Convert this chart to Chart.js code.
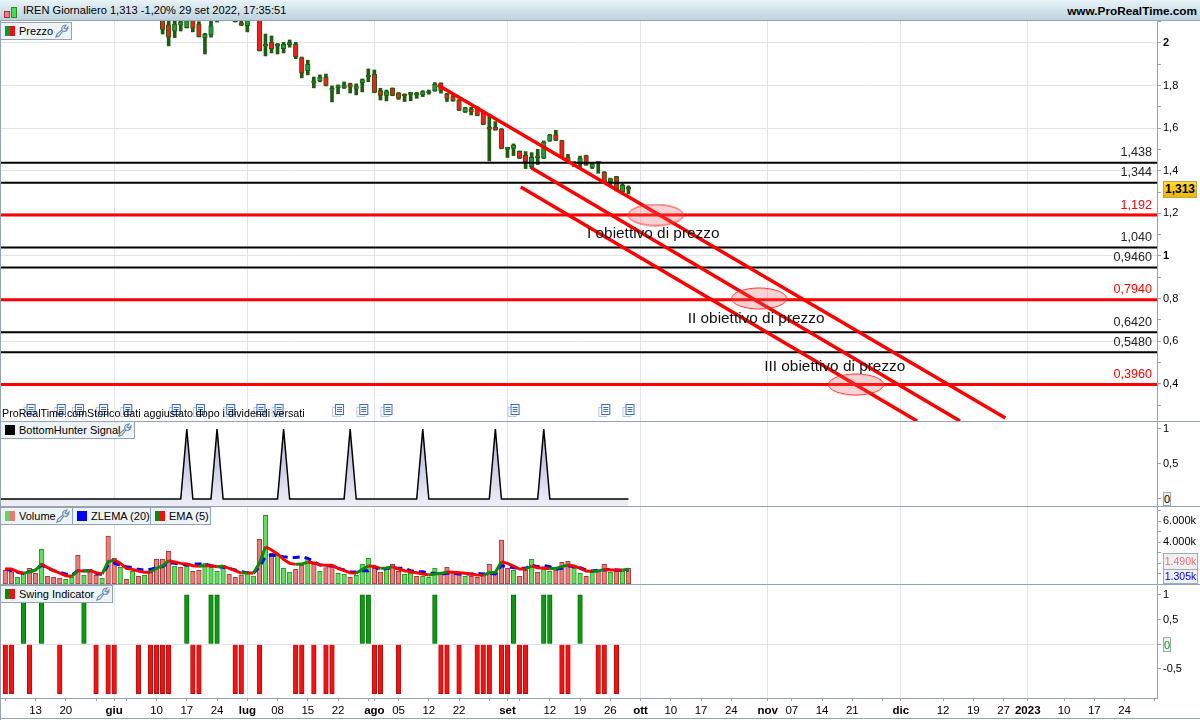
<!DOCTYPE html>
<html>
<head>
<meta charset="utf-8">
<title>IREN Giornaliero</title>
<script src="https://cdn.jsdelivr.net/npm/chart.js@4/dist/chart.umd.js"></script>
<style>
  html, body { margin: 0; background: #fff; }
  #page { position: relative; width: 1200px; height: 720px; overflow: hidden; background: #fff;
          font-family: "Liberation Sans", Arial, sans-serif; color: #000; }
  canvas { position: absolute; left: 0; display: block; }
  #header { position: absolute; left: 0; top: 0; width: 1200px; height: 21px; box-sizing: border-box;
            background: linear-gradient(#e9f3f8, #bdd2de); border-bottom: 1px solid #94a4b0; }
  #title { position: absolute; left: 23px; top: 4px; font-size: 11.1px; white-space: nowrap; }
  #site { position: absolute; right: 3px; top: 4px; font-size: 11.8px; font-weight: bold; }
  .ico { position: absolute; border: 1px solid #a33; }
  .sep { position: absolute; left: 0; width: 1200px; height: 1px; background: #94a4b0; }
  .tab { position: absolute; height: 18px; box-sizing: border-box; background: #edf3f6; border: 1px solid #94a4b0;
         font-size: 11px; line-height: 16px; padding-left: 18px; white-space: nowrap; }
  .tab i { position: absolute; left: 4px; top: 3px; width: 5px; height: 10px; }
  .tab i + i { left: 9px; }
  .tab svg { position: absolute; top: 1px; right: 2px; width: 14px; height: 14px; fill: none; stroke: #6f8eae; stroke-width: 1.2; }
  .tag { position: absolute; box-sizing: border-box; border: 1px solid #a0acb4; background: #eef1f4;
         font-size: 11px; line-height: 14px; text-align: center; white-space: nowrap; }
  #note { position: absolute; left: 2px; top: 407px; font-size: 10.7px; white-space: nowrap; }
</style>
</head>
<body>
<div id="page">
  <canvas id="priceChart" width="1200" height="400" style="top:21px"></canvas>
  <canvas id="hunterChart" width="1200" height="85" style="top:421px"></canvas>
  <canvas id="volumeChart" width="1200" height="78" style="top:506px"></canvas>
  <canvas id="swingChart" width="1200" height="136" style="top:584px"></canvas>

  <div class="sep" style="top:421px"></div>
  <div class="sep" style="top:506px"></div>
  <div class="sep" style="top:584px"></div>
  <div class="sep" style="top:718px"></div>
  <div class="sep" style="top:0;left:0;width:1px;height:720px"></div>

  <div id="header">
    <div class="ico" style="left:4px;top:11px;width:4px;height:5px;background:#f08080"></div>
    <div class="ico" style="left:11px;top:7px;width:4px;height:9px;background:#50d850;border-color:#2a8a2a"></div>
    <div id="title">IREN Giornaliero 1,313 -1,20% 29 set 2022, 17:35:51</div>
    <div id="site">www.ProRealTime.com</div>
  </div>

  <svg width="0" height="0" style="position:absolute">
    <symbol id="wrench" viewBox="0 0 14 14"><path d="M1 13 L2 10 L7 6 C6 3 8 1 11 1 L9 4 L11 5 L13 3 C13 6 11 8 8 7 L4 12 Z"/></symbol>
  </svg>

  <div class="tab" style="left:0;top:22px;width:72px"><i style="background:#0a9a30"></i><i style="background:#f01010"></i>Prezzo<svg><use href="#wrench"/></svg></div>
  <div class="tab" style="left:0;top:421px;width:135px"><i style="background:#000"></i><i style="background:#000"></i>BottomHunter Signal<svg><use href="#wrench"/></svg></div>
  <div class="tab" style="left:0;top:507px;width:73px"><i style="background:#60d860"></i><i style="background:#e87a72"></i>Volume<svg><use href="#wrench"/></svg></div>
  <div class="tab" style="left:72px;top:507px;width:79px"><i style="background:#0000ff"></i><i style="background:#0000ff"></i>ZLEMA (20)</div>
  <div class="tab" style="left:150px;top:507px;width:61px"><i style="background:#0a8a0a"></i><i style="background:#f01010"></i>EMA (5)</div>
  <div class="tab" style="left:0;top:585px;width:113px"><i style="background:#0a8a0a"></i><i style="background:#f01010"></i>Swing Indicator<svg><use href="#wrench"/></svg></div>

  <div id="note">ProRealTime.comStorico dati aggiustato dopo i dividendi versati</div>

  <div class="tag" style="left:1163px;top:181px;width:34px;height:17px;font-weight:bold;font-size:12px;line-height:15px;background:linear-gradient(#ffdc30,#f2b800);border-color:#b9a64e">1,313</div>
  <div class="tag" style="left:1163px;top:492px;width:8px;height:14px;line-height:13px;font-size:11px">0</div>
  <div class="tag" style="left:1163px;top:553px;width:35px;height:17px;color:#e87070;line-height:15px;font-size:10.5px">1.490k</div>
  <div class="tag" style="left:1163px;top:569px;width:35px;height:15px;color:#0000ff;line-height:13px;font-size:10.5px">1.305k</div>
  <div class="tag" style="left:1163px;top:637px;width:8px;height:15px;color:#0a9a0a;line-height:14px;font-size:11px">0</div>
</div>

<script>
// ---- data. slot = trading day number, 0 is the first bar
const firstCandleSlot = 26;
const opens = [2.12,2.085,2.055,2.083,2.072,2.11,2.089,2.025,2.038,2.102,null,null,2.1,2.094,2.081,null,2.12,1.985,2.002,1.985,1.973,1.992,1.994,1.93,1.87,1.812,1.822,1.839,1.778,1.79,1.789,1.808,1.786,1.814,1.84,1.853,1.776,1.754,1.787,1.765,1.756,1.758,1.755,1.756,1.765,1.775,1.811,1.759,1.748,1.732,1.676,1.689,1.698,1.678,1.604,1.604,1.596,1.5,1.505,1.491,1.473,1.419,1.461,1.459,1.54,1.57,1.541,1.463,1.435,1.435,1.471,1.416,1.438,1.394,1.349,1.372,1.302,1.318];
const closes = [2.064,2.027,2.089,2.099,2.105,2.069,2.03,2.041,2.08,2.103,null,null,2.103,2.083,2.11,null,1.964,1.989,1.973,1.989,1.994,1.996,1.936,1.858,1.9,1.822,1.84,1.8,1.787,1.794,1.801,1.792,1.798,1.828,1.844,1.768,1.754,1.772,1.754,1.739,1.751,1.76,1.757,1.772,1.767,1.806,1.776,1.74,1.729,1.684,1.695,1.676,1.66,1.618,1.595,1.592,1.505,1.504,1.52,1.459,1.443,1.463,1.465,1.535,1.568,1.543,1.463,1.443,1.433,1.459,1.427,1.432,1.436,1.349,1.363,1.307,1.332,1.313];
const highs = [2.14,2.12,2.12,2.12,2.12,2.13,2.1,2.045,2.11,2.11,null,null,2.11,2.11,2.12,null,2.14,2.042,2.033,1.998,2.003,2.014,2.003,1.934,1.919,1.84,1.85,1.854,1.798,1.803,1.817,1.811,1.808,1.831,1.878,1.873,1.787,1.779,1.789,1.767,1.761,1.768,1.768,1.776,1.779,1.814,1.813,1.764,1.756,1.734,1.698,1.698,1.7,1.68,1.662,1.631,1.598,1.505,1.526,1.493,1.49,1.485,1.501,1.54,1.571,1.59,1.543,1.477,1.443,1.469,1.473,1.438,1.44,1.396,1.365,1.374,1.338,1.329];
const lows = [2.042,1.986,2.025,2.056,2.07,2.052,2.028,1.948,2.027,2.098,null,null,2.098,2.081,2.052,null,1.962,1.939,1.953,1.948,1.953,1.98,1.926,1.836,1.85,1.789,1.817,1.798,1.723,1.761,1.786,1.765,1.756,1.77,1.818,1.766,1.732,1.728,1.752,1.735,1.725,1.729,1.74,1.748,1.759,1.773,1.764,1.725,1.726,1.682,1.673,1.662,1.658,1.616,1.446,1.59,1.503,1.462,1.471,1.457,1.41,1.41,1.429,1.457,1.538,1.541,1.461,1.438,1.419,1.415,1.425,1.41,1.388,1.347,1.333,1.305,1.291,1.291];

const blackLevels = [1.438, 1.344, 1.04, 0.946, 0.642, 0.548];
const redLevels = [1.192, 0.794, 0.396];

const trendStartSlots = [71.5, 87, 85.2];
const trendStartPrices = [1.803, 1.413, 1.324];
const trendEndSlots = [165.3, 157.8, 150.7];
const trendEndPrices = [0.239, 0.225, 0.225];

const targetSlots = [107.5, 124.6, 140.6];
const targetPrices = [1.192, 0.8, 0.396];
const targetLabels = ["I obiettivo di prezzo", "II obiettivo di prezzo", "III obiettivo di prezzo"];
const targetLabelSlots = [107.1, 124.1, 137.1];
const targetLabelPrices = [1.103, 0.704, 0.479];

const dividendSlots = [4, 9, 12, 16, 20, 28, 32, 37, 42, 45, 55, 59, 63, 84, 99, 103];
const dividendPrice = 0.272;

const hunterPeaks = [30, 35, 46, 57, 69, 81, 89];

const volumes = [1330,1175,635,1015,1490,1015,3300,730,635,540,445,635,2730,825,1395,825,570,4565,2440,1585,445,1205,730,825,1110,2345,2345,3105,1710,1585,1710,1205,1300,1965,1585,1205,1775,920,635,855,1015,760,4250,6530,2915,2760,1490,1110,1395,1805,2440,1870,1205,1555,1710,1015,920,635,825,1870,2440,1650,1140,1585,1870,1205,920,1015,730,730,635,1490,920,1585,1110,1015,730,730,635,825,1870,1110,4185,1490,1300,730,1300,2345,1110,1395,1205,1300,2060,2155,1490,1015,730,1110,1205,1870,1110,1205,1205,1490];
const greenVolumeSlots = [2,3,6,10,11,13,16,19,21,23,28,30,33,34,35,36,40,41,43,45,46,47,50,52,55,56,58,59,60,63,66,67,69,70,71,76,84,87,89,90,94,95,97,100,102];
const ema5 = [1430,1430,1170,1015,1170,1330,1900,1555,1270,1045,790,730,1270,1235,1270,1080,950,2125,2280,1965,1490,1395,1235,1110,1110,1490,1745,2220,2090,1965,1900,1745,1680,1745,1745,1650,1710,1490,1270,1045,1080,1015,1965,3550,3235,2855,2345,1965,1870,1900,2090,2000,1840,1775,1775,1490,1270,1080,1015,1395,1710,1680,1490,1520,1650,1430,1270,1170,1080,950,855,950,1015,1140,1110,1080,1015,950,855,825,1080,1110,2125,1965,1710,1430,1430,1710,1555,1520,1460,1490,1650,1805,1710,1490,1235,1205,1235,1395,1330,1330,1330,1395];
const zlema20 = [1430,1270,1110,1015,1170,1330,1805,1490,1270,1110,950,855,1270,1270,1235,1015,890,1805,1965,1805,1650,1555,1395,1330,1395,1555,1650,2030,1965,1900,1805,1900,1900,1900,1745,1650,1585,1490,1330,1170,1080,1015,1650,2600,2760,2695,2600,2535,2535,2600,2440,2125,1805,1745,1710,1490,1330,1170,1140,1270,1270,1650,1330,1490,1490,1490,1490,1270,1170,1170,1015,1015,920,1015,1015,950,950,950,1015,950,1015,950,1745,1650,1555,1490,1490,1805,1650,1745,1650,1430,1490,1745,1650,1555,1330,1235,1330,1330,1395,1330,1270,1305];

const swingUpSlots = [3,6,13,30,34,35,59,60,71,84,89,90,95];
const swingDownSlots = [0,1,4,9,15,17,18,22,24,25,26,27,31,32,38,39,42,48,49,51,53,54,61,62,65,72,73,75,78,79,80,82,83,85,86,92,93,98,99,101];

const priceTicks = [0.3,0.4,0.5,0.6,0.7,0.8,0.9,1,1.1,1.2,1.3,1.4,1.5,1.6,1.7,1.8,1.9,2,2.1];
const hunterTicks = [0, 0.5, 1];
const volumeTicks = [1000,2000,3000,4000,5000,6000,7000];
const swingTicks = [-0.5, 0, 0.5, 1];

const dateSlots = [0,5,10,15,18,20,25,30,35,40,45,50,55,60,61,65,70,75,80,83,85,90,95,100,105,110,115,120,126,130,135,140,145,148,155,160,165,169,175,180,185,190];
const dateLabels = ["","13","20","","giu","","10","17","24","lug","08","15","22","","ago","05","12","22","","set","","12","19","26","ott","10","17","24","nov","07","14","21","","dic","12","19","27","2023","10","17","24",""];
const monthLabels = ["giu","lug","ago","set","ott","nov","dic","2023"];

// ---- shared setup
Chart.defaults.font.family = "'Liberation Sans', Arial, sans-serif";
Chart.defaults.font.size = 11;
Chart.defaults.color = "#000";

const AXIS_COLOR = "#94a4b0";
const GRID_COLOR = "#e3e3ec";
const slotMin = -0.876;
const slotMax = 190.36;
const BAR_WIDTH = 4.6;

const isMonthSlot = (v) => monthLabels.includes(dateLabels[dateSlots.indexOf(v)]);
const comma = (v) => String(v).replace(".", ",");

// the layout reserves half a label at each end otherwise, the panels must fill their canvas
function noPadding(scale) {
  scale.paddingTop = 0;
  scale.paddingBottom = 0;
  scale.paddingLeft = 0;
  scale.paddingRight = 0;
}

function xAxis(showLabels) {
  return {
    type: "linear",
    min: slotMin,
    max: slotMax,
    offset: false,
    afterBuildTicks: (scale) => { scale.ticks = dateSlots.map((value) => ({ value })); },
    afterFit: (scale) => { scale.height = showLabels ? 22 : 0; noPadding(scale); },
    border: { display: showLabels, color: AXIS_COLOR },
    grid: {
      offset: false,
      drawTicks: showLabels,
      tickLength: 3,
      tickColor: AXIS_COLOR,
      color: (ctx) => (ctx.tick && isMonthSlot(ctx.tick.value) ? GRID_COLOR : "transparent"),
    },
    ticks: {
      display: showLabels,
      autoSkip: false,
      maxRotation: 0,
      padding: 3,
      callback: (v) => dateLabels[dateSlots.indexOf(v)],
      font: (ctx) => ({ size: 11.5, weight: ctx.tick && isMonthSlot(ctx.tick.value) ? "bold" : "normal" }),
    },
  };
}

function yAxis(min, max, tickValues, label, gridFor, boldFor) {
  return {
    position: "right",
    min,
    max,
    afterBuildTicks: (scale) => { scale.ticks = tickValues.map((value) => ({ value })); },
    afterFit: (scale) => { scale.width = 43; noPadding(scale); },
    border: { color: AXIS_COLOR },
    grid: {
      tickLength: 4,
      tickColor: AXIS_COLOR,
      color: (ctx) => (ctx.tick && gridFor(ctx.tick.value) ? GRID_COLOR : "transparent"),
    },
    ticks: {
      autoSkip: false,
      padding: 2,
      callback: label,
      font: (ctx) => ({ size: 11, weight: ctx.tick && boldFor && boldFor(ctx.tick.value) ? "bold" : "normal" }),
    },
  };
}

function baseOptions(x, y) {
  return {
    responsive: false,
    animation: false,
    events: [],
    layout: { autoPadding: false, padding: 0 },
    plugins: { legend: { display: false }, tooltip: { enabled: false } },
    scales: { x, y },
  };
}

function spanLine(price, color, width) {
  return {
    type: "line", order: 2, borderColor: color, borderWidth: width, pointRadius: 0,
    data: [{ x: slotMin, y: price }, { x: slotMax, y: price }],
  };
}

// ---- images used as point styles
function ellipseImage() {
  const c = document.createElement("canvas");
  c.width = 58; c.height = 23;
  const g = c.getContext("2d");
  g.beginPath();
  g.ellipse(29, 11.5, 27.5, 10.5, 0, 0, Math.PI * 2);
  g.fillStyle = "rgba(240,90,90,0.28)";
  g.fill();
  g.strokeStyle = "#f03030";
  g.lineWidth = 1;
  g.stroke();
  return c;
}

function dividendImage() {
  const c = document.createElement("canvas");
  c.width = 14; c.height = 14;
  const g = c.getContext("2d");
  g.strokeStyle = "#b8c8ea"; g.fillStyle = "#fff";
  g.fillRect(1.5, 3.5, 8, 9); g.strokeRect(1.5, 3.5, 8, 9);
  g.strokeStyle = "#3a6cc8";
  g.fillRect(4.5, 0.5, 8, 10); g.strokeRect(4.5, 0.5, 8, 10);
  g.beginPath();
  [3, 5, 7].forEach((y) => { g.moveTo(6, y + 0.5); g.lineTo(11, y + 0.5); });
  g.stroke();
  return c;
}

// text on the price panel: level values and target names
const priceTextPlugin = {
  id: "priceText",
  afterDatasetsDraw(chart) {
    const { ctx, scales: { x, y } } = chart;
    ctx.save();
    ctx.font = "12.6px 'Liberation Sans', Arial, sans-serif";
    ctx.textAlign = "right";
    ctx.textBaseline = "middle";
    const levelText = (level, color) => {
      ctx.fillStyle = color;
      ctx.fillText(level.toPrecision(4).replace(".", ","), 1152, y.getPixelForValue(level) - 10);
    };
    blackLevels.forEach((l) => levelText(l, "#222"));
    redLevels.forEach((l) => levelText(l, "#f00"));
    ctx.font = "15.4px 'Liberation Sans', Arial, sans-serif";
    ctx.textAlign = "center";
    ctx.fillStyle = "#111";
    targetLabels.forEach((t, i) => {
      ctx.fillText(t, x.getPixelForValue(targetLabelSlots[i]), y.getPixelForValue(targetLabelPrices[i]));
    });
    ctx.restore();
  },
};

// ---- price panel
const candleSlots = opens.map((_, i) => firstCandleSlot + i);
const candleIndex = candleSlots.map((_, i) => i).filter((i) => opens[i] !== null);
const DARK_WICK = "#235a12";

new Chart(document.getElementById("priceChart"), {
  type: "bar",
  plugins: [priceTextPlugin],
  data: {
    datasets: [
      {
        type: "scatter", order: 0, pointStyle: ellipseImage(),
        data: targetSlots.map((s, i) => ({ x: s, y: targetPrices[i] })),
      },
      {
        type: "scatter", order: 0, pointStyle: dividendImage(),
        data: dividendSlots.map((s) => ({ x: s, y: dividendPrice })),
      },
      ...trendStartSlots.map((s, i) => ({
        type: "line", order: 1, borderColor: "#f00", borderWidth: 3.5, pointRadius: 0,
        data: [{ x: s, y: trendStartPrices[i] }, { x: trendEndSlots[i], y: trendEndPrices[i] }],
      })),
      ...redLevels.map((l) => spanLine(l, "#f00", 3)),
      ...blackLevels.map((l) => spanLine(l, "#000", 2)),
      {
        order: 3, grouped: false, barThickness: BAR_WIDTH, minBarLength: 2, borderWidth: 1, borderSkipped: false,
        borderColor: DARK_WICK,
        backgroundColor: (ctx) => (ctx.raw && ctx.raw.y[1] >= ctx.raw.y[0] ? "#1f9a3c" : "#f41d1d"),
        data: candleIndex.map((i) => ({ x: candleSlots[i], y: [opens[i], closes[i]] })),
      },
      {
        order: 4, grouped: false, barThickness: 3, borderWidth: 0, backgroundColor: DARK_WICK,
        data: candleIndex.map((i) => ({ x: candleSlots[i], y: [lows[i], highs[i]] })),
      },
    ],
  },
  options: baseOptions(
    xAxis(false),
    yAxis(0.225, 2.103, priceTicks,
      (v) => (Math.round(v * 10) % 2 === 0 ? comma(v) : ""),
      (v) => Math.round(v * 10) % 2 === 0,
      (v) => v === 1 || v === 2)
  ),
});

// ---- BottomHunter panel
const hunterSlots = volumes.map((_, i) => i);

new Chart(document.getElementById("hunterChart"), {
  type: "line",
  data: {
    datasets: [{
      borderColor: "#000", borderWidth: 1.5, pointRadius: 0, fill: "start",
      backgroundColor: (ctx) => {
        const area = ctx.chart.chartArea;
        if (!area) return "#dddced";
        const g = ctx.chart.ctx.createLinearGradient(0, area.top, 0, area.bottom);
        g.addColorStop(0, "#a9a9d4");
        g.addColorStop(1, "#efeff8");
        return g;
      },
      data: [{ x: slotMin, y: 0 }].concat(hunterSlots.map((s) => ({ x: s, y: hunterPeaks.includes(s) ? 1 : 0 }))),
    }],
  },
  options: baseOptions(
    xAxis(false),
    yAxis(-0.1, 1.114, hunterTicks, (v) => (v === 0 ? "" : comma(v)), () => false)
  ),
});

// ---- volume panel
new Chart(document.getElementById("volumeChart"), {
  type: "bar",
  data: {
    datasets: [
      {
        type: "line", order: 0, borderWidth: 3, pointRadius: 0, borderColor: "#f00",
        segment: { borderColor: (ctx) => (ctx.p1.parsed.y > ctx.p0.parsed.y ? "#0a8a0a" : "#f00") },
        data: ema5.map((v, i) => ({ x: i, y: v })),
      },
      {
        type: "line", order: 1, borderWidth: 3, pointRadius: 0, borderColor: "#0000ff", borderDash: [7, 5],
        data: zlema20.map((v, i) => ({ x: i, y: v })),
      },
      {
        order: 2, barThickness: BAR_WIDTH, borderWidth: 1, borderSkipped: false,
        borderColor: (ctx) => (greenVolumeSlots.includes(ctx.dataIndex) ? "#2a9a2a" : "#a83a3a"),
        backgroundColor: (ctx) => (greenVolumeSlots.includes(ctx.dataIndex) ? "#66dc5e" : "#e8807a"),
        data: volumes.map((v, i) => ({ x: i, y: v })),
      },
    ],
  },
  options: baseOptions(
    xAxis(false),
    yAxis(0, 7430, volumeTicks,
      (v) => (v === 6000 || v === 4000 ? v / 1000 + ".000k" : ""),
      () => false)
  ),
});

// ---- swing panel
new Chart(document.getElementById("swingChart"), {
  type: "bar",
  data: {
    datasets: [
      {
        grouped: false, barThickness: BAR_WIDTH, borderWidth: 1, borderColor: "#0a6a0a", backgroundColor: "#0d9a10",
        data: swingUpSlots.map((s) => ({ x: s, y: 1 })),
      },
      {
        grouped: false, barThickness: BAR_WIDTH, borderWidth: 1, borderColor: "#b01010", backgroundColor: "#f81010",
        data: swingDownSlots.map((s) => ({ x: s, y: -1 })),
      },
    ],
  },
  options: baseOptions(
    xAxis(true),
    yAxis(-1.09, 1.22, swingTicks, (v) => (v === 0 ? "" : comma(v)), (v) => v === 0)
  ),
});
</script>
</body>
</html>
